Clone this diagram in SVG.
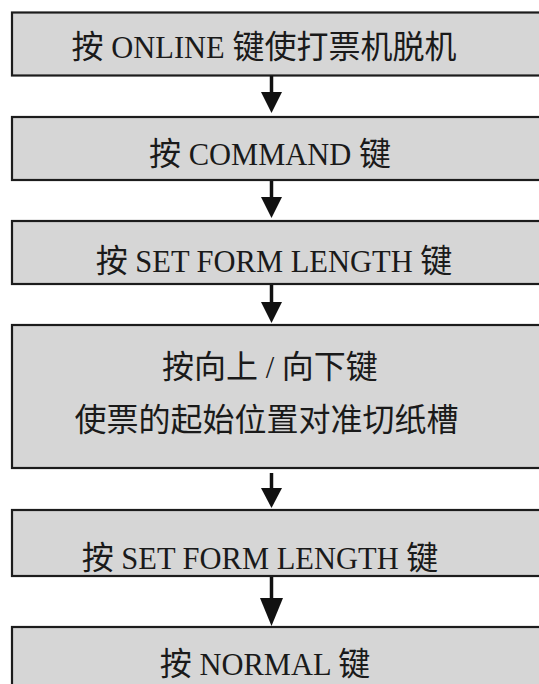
<svg xmlns="http://www.w3.org/2000/svg" width="539" height="684" viewBox="0 0 539 684">
<style>
.box{fill:#d6d6d6;stroke:#1c1c1c;stroke-width:2.2}
.t{font-family:"Noto Sans CJK SC","Liberation Serif",sans-serif;font-size:32px;fill:#1a1a1a;text-anchor:middle}
.l{font-family:"Liberation Serif",serif;font-size:30.5px}
.c line{stroke:#111;stroke-width:3.5}
.c polygon{fill:#111}
</style>
<rect width="539" height="684" fill="#fff"/>
<g id="n1"><rect class="box" x="12" y="12.5" width="560" height="63"/><text class="t" x="264" y="58">按<tspan class="l"> ONLINE </tspan>键使打票机脱机</text></g>
<g id="n2"><rect class="box" x="12" y="117" width="560" height="63"/><text class="t" x="270" y="165">按<tspan class="l"> COMMAND </tspan>键</text></g>
<g id="n3"><rect class="box" x="12" y="221" width="560" height="63"/><text class="t" x="274" y="272">按<tspan class="l"> SET FORM LENGTH </tspan>键</text></g>
<g id="n4"><rect class="box" x="12" y="325" width="560" height="143"/><text class="t" x="270" y="378">按向上<tspan class="l"> / </tspan>向下键</text><text class="t" x="266.5" y="431">使票的起始位置对准切纸槽</text></g>
<g id="n5"><rect class="box" x="12" y="510" width="560" height="66"/><text class="t" x="260" y="569">按<tspan class="l"> SET FORM LENGTH </tspan>键</text></g>
<g id="n6"><rect class="box" x="12" y="627" width="560" height="80"/><text class="t" x="265" y="675">按<tspan class="l"> NORMAL </tspan>键</text></g>
<g id="connectors" class="c">
<line x1="271.5" y1="76" x2="271.5" y2="93"/><polygon points="261,92 282,92 271.5,113"/>
<line x1="271.5" y1="181" x2="271.5" y2="198"/><polygon points="261,197 282,197 271.5,218"/>
<line x1="271.5" y1="285" x2="271.5" y2="303"/><polygon points="261,302 282,302 271.5,323"/>
<line x1="271.5" y1="473" x2="271.5" y2="489"/><polygon points="261,488 282,488 271.5,508"/>
<line x1="271.5" y1="577" x2="271.5" y2="599"/><polygon points="260,598 283,598 271.5,626"/>
</g>
</svg>
